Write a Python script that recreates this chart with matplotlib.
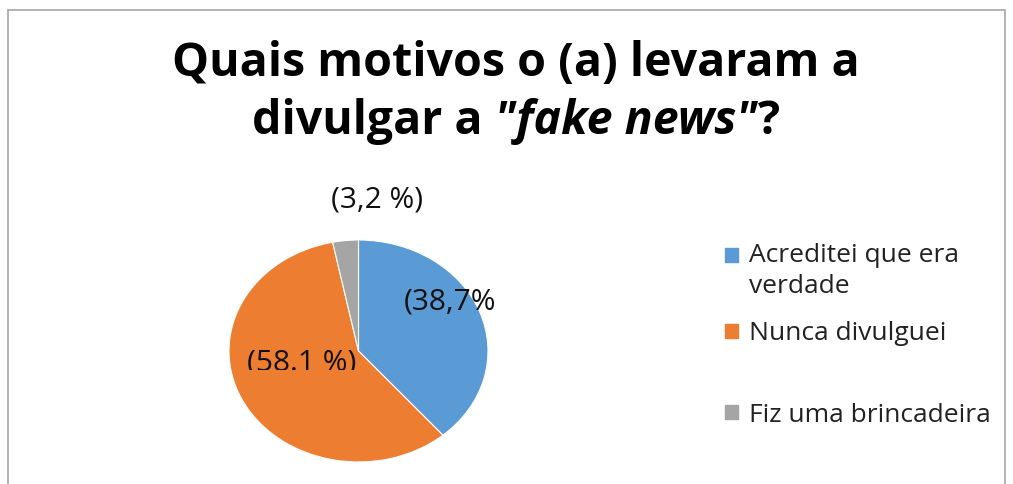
import matplotlib
matplotlib.use("Agg")
import matplotlib.pyplot as plt
from matplotlib.patches import Rectangle
from matplotlib.transforms import Bbox

plt.rcParams['font.family'] = ['Open Sans', 'DejaVu Sans']

# data
labels = ['Acreditei que era\nverdade', 'Nunca divulguei', 'Fiz uma brincadeira']
values = [38.7, 58.1, 3.2]
pct_texts = ['(38,7%', '(58.1 %)', '(3,2 %)']
colors = ['#5B9BD5', '#ED7D31', '#A5A5A5']

W, H = 1013, 484
fig = plt.figure(figsize=(W / 100, H / 100), dpi=100)
fig.patch.set_facecolor('white')

# chart border
fig.patches.append(Rectangle((8 / W, -0.05), 997 / W, 1.05 - 10 / H,
                             transform=fig.transFigure, fill=False,
                             edgecolor='#A6A6A6', linewidth=1.2))

# pie (stretched like the original)
ax = fig.add_axes([229 / W, 1 - 462 / H, 259 / W, 222 / H])
ax.pie(values, colors=colors, startangle=90, counterclock=False,
       wedgeprops=dict(edgecolor='white', linewidth=0.8))
ax.set_aspect('auto')
ax.set_xlim(-1, 1)
ax.set_ylim(-1, 1)

# value labels (baseline positions)
lab_pos = [(0.705, 0.37), (-0.44, -0.175), (0.147, 1.29)]
for (x, y), t in zip(lab_pos, pct_texts):
    txt = ax.text(x, y, t, ha='center', va='baseline', fontsize=21.5,
                  color='#111111')
    if t.startswith('(58'):
        # the original cuts this label off at its bottom
        txt.set_clip_box(Bbox.from_extents(0, H - 370, W, H))
        txt.set_clip_on(True)

# legend (manual); y = baseline of last line of each entry
leg_y = [293, 340, 422]
box_y = [248, 324, 405]
for y, by, lab, c in zip(leg_y, box_y, labels, colors):
    fig.patches.append(Rectangle((725 / W, 1 - (by + 14) / H), 13 / W, 14 / H,
                                 transform=fig.transFigure, color=c))
    fig.text(749 / W, 1 - y / H, lab, ha='left', va='baseline',
             fontsize=19, color='#222222', linespacing=1.3)

# title: two lines, "fake news" in italic
fig.text(516 / W, 1 - 64 / H, 'Quais motivos o (a) levaram a', ha='center',
         va='center', fontsize=33.5, fontweight='bold')

fig.canvas.draw()
r = fig.canvas.get_renderer()
parts = [('divulgar a ', 'normal'), ('"fake news"', 'italic'), ('?', 'normal')]
objs = []
for s, st in parts:
    objs.append(fig.text(0, 1 - 122 / H, s, ha='left', va='center',
                         fontsize=33.5, fontweight='bold', style=st))
widths = [o.get_window_extent(r).width for o in objs]
x0 = 516 - sum(widths) / 2
for o, w in zip(objs, widths):
    o.set_x(x0 / W)
    x0 += w

fig.savefig('out.png', dpi=100)
